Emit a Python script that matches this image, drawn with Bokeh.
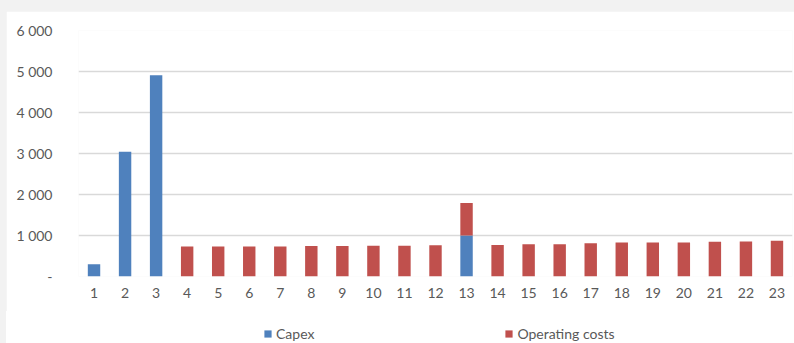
from bokeh.plotting import figure
from bokeh.models import FactorRange, Range1d, FixedTicker, Legend, LegendItem
from bokeh.layouts import column
from bokeh.embed import file_html
from bokeh.resources import INLINE

years = [str(i) for i in range(1, 24)]
capex = [300, 3040, 4910, 0, 0, 0, 0, 0, 0, 0, 0, 0, 1000, 0, 0, 0, 0, 0, 0, 0, 0, 0, 0]
operating = [0, 0, 0, 730, 730, 730, 730, 745, 745, 750, 750, 765, 790, 770, 785, 785, 810, 830, 830, 830, 850, 855, 875]
y_ticks = [0, 1000, 2000, 3000, 4000, 5000, 6000]
y_labels = ["-", "1 000", "2 000", "3 000", "4 000", "5 000", "6 000"]
series = ["Capex", "Operating costs"]
colors = ["#4f81bd", "#c0504d"]

FONT = "Lato"
TXT = "#595959"

src = dict(years=years, Capex=capex)
src["Operating costs"] = operating

p = figure(x_range=FactorRange(*years, range_padding=0), y_range=Range1d(0, 6000),
           width=788, height=300, output_backend="svg", toolbar_location=None,
           min_border_left=72, min_border_right=2, min_border_top=19, min_border_bottom=35,
           background_fill_color="white", border_fill_color="white", outline_line_color=None)
rs = p.vbar_stack(series, x="years", width=0.4, color=colors, source=src, line_color=None)

p.yaxis.ticker = FixedTicker(ticks=y_ticks)
p.yaxis.major_label_overrides = {t: l for t, l in zip(y_ticks, y_labels)}
for ax in (p.xaxis, p.yaxis):
    ax.axis_line_color = None
    ax.major_tick_line_color = None
    ax.minor_tick_line_color = None
    ax.major_label_text_font = FONT
    ax.major_label_text_font_size = "14px"
    ax.major_label_text_color = TXT
p.yaxis.major_label_standoff = 20
p.xaxis.major_label_standoff = 5
p.xgrid.grid_line_color = None
p.ygrid.grid_line_color = "#d9d9d9"
p.ygrid.grid_line_width = 1.5
p.styles = {"margin-top": "11px", "margin-left": "6px"}

# legend strip below the chart (its bars lie far below its visible y range)
lf = figure(x_range=FactorRange(*years, range_padding=0), y_range=Range1d(6000, 6001),
            width=788, height=32, output_backend="svg", toolbar_location=None,
            x_axis_type=None, y_axis_type=None, min_border=0,
            background_fill_alpha=0, border_fill_alpha=0, outline_line_color=None)
lf.xgrid.visible = False
lf.ygrid.visible = False
lrs = lf.vbar_stack(series, x="years", width=0.4, color=colors, source=src, line_color=None)
legend = Legend(items=[LegendItem(label=s, renderers=[r]) for s, r in zip(series, lrs)],
                orientation="horizontal", location=(185, 1), spacing=190,
                glyph_width=9, glyph_height=9, label_standoff=4, label_height=14,
                label_text_font=FONT, label_text_font_size="14px", label_text_color=TXT,
                border_line_color=None, background_fill_alpha=0, padding=0, margin=0)
lf.add_layout(legend, "center")
lf.styles = {"margin-left": "6px", "background-color": "white"}

root = column(p, lf, spacing=0,
              styles={"background-color": "#f2f2f2", "width": "794px", "height": "343px"})
open("out.html", "w").write(file_html(root, INLINE))
